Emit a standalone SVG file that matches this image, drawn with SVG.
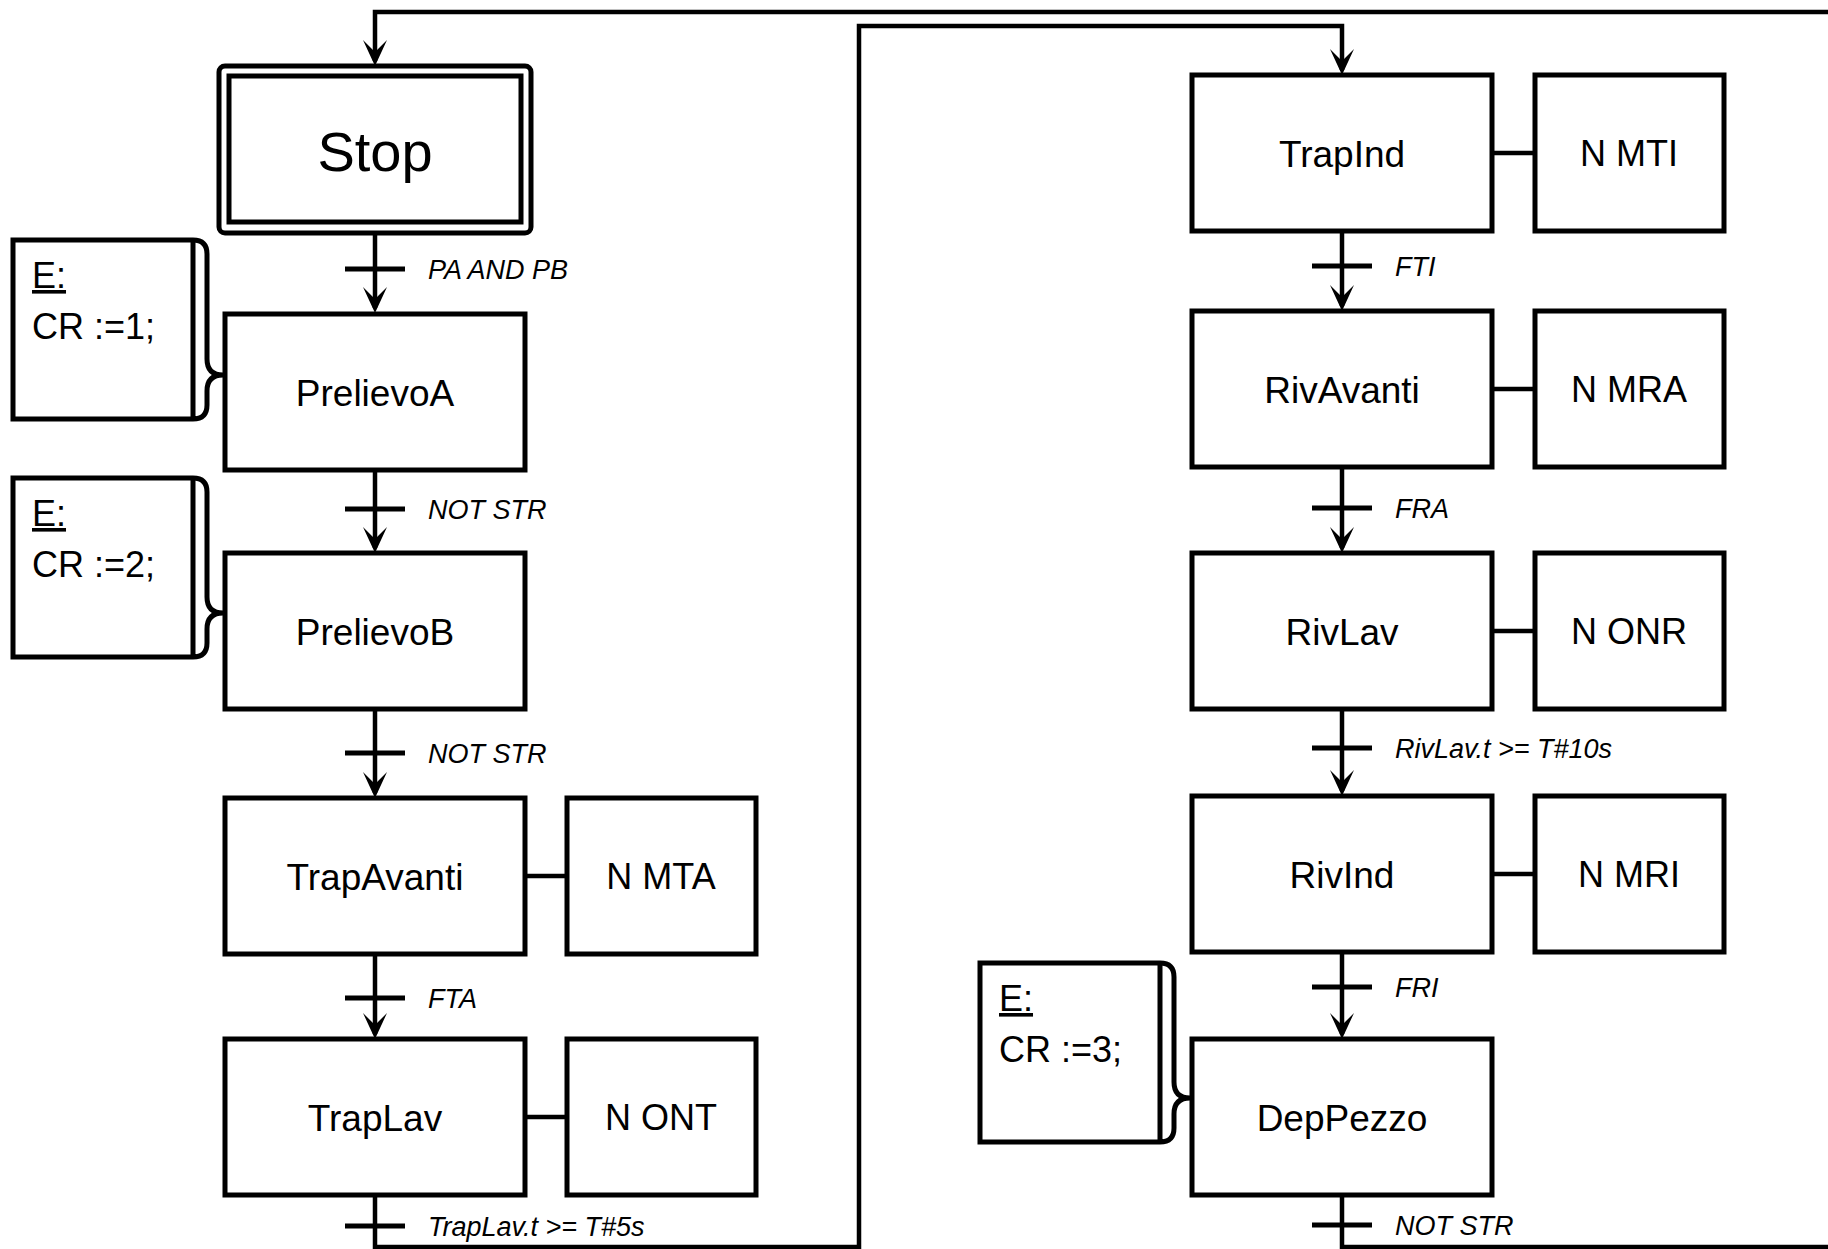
<svg xmlns="http://www.w3.org/2000/svg" width="1828" height="1249" viewBox="0 0 1828 1249">
<style>
  .box { fill: #fff; stroke: #000; stroke-width: 5; }
  .ln { fill: none; stroke: #000; stroke-width: 4.5; }
  .bar { stroke: #000; stroke-width: 5; }
  .step { font-family: "Liberation Sans", Arial, sans-serif; font-size: 37px; fill: #000; text-anchor: middle; }
  .act { font-family: "Liberation Sans", Arial, sans-serif; font-size: 36px; fill: #000; text-anchor: middle; }
  .cond { font-family: "Liberation Sans", Arial, sans-serif; font-size: 27px; font-style: italic; fill: #000; }
  .ent { font-family: "Liberation Sans", Arial, sans-serif; font-size: 36px; fill: #000; }
</style>
<defs>
  <marker id="arr" markerUnits="userSpaceOnUse" markerWidth="40" markerHeight="40" refX="0" refY="0" orient="auto" overflow="visible">
    <path d="M5,0 L-21,-12 L-9,0 L-21,12 Z" fill="#000"/>
  </marker>
  <path id="ebox" d="M193,240 H13 V419 H193 M193,240 V419 M193,240 Q207,240 207,254 V359 Q207,375 223,375 Q207,375 207,391 V405 Q207,419 193,419" fill="none" stroke="#000" stroke-width="5"/>
</defs>
<rect width="1828" height="1249" fill="#fff"/>

<g id="connectors">
  <path class="ln" d="M375,233 V308" marker-end="url(#arr)"/>
  <path class="ln" d="M375,470 V548" marker-end="url(#arr)"/>
  <path class="ln" d="M375,709 V793" marker-end="url(#arr)"/>
  <path class="ln" d="M375,954 V1034" marker-end="url(#arr)"/>
  <path class="ln" d="M375,1195 V1247 H859 V26 H1342 V70" marker-end="url(#arr)"/>
  <path class="ln" d="M1342,231 V306" marker-end="url(#arr)"/>
  <path class="ln" d="M1342,467 V548" marker-end="url(#arr)"/>
  <path class="ln" d="M1342,709 V791" marker-end="url(#arr)"/>
  <path class="ln" d="M1342,952 V1034" marker-end="url(#arr)"/>
  <path class="ln" d="M1342,1195 V1247 H1850 V12 H375 V61" marker-end="url(#arr)"/>
  <path class="ln" d="M527,876 H565"/>
  <path class="ln" d="M527,1117 H565"/>
  <path class="ln" d="M1494,153 H1533"/>
  <path class="ln" d="M1494,389 H1533"/>
  <path class="ln" d="M1494,631 H1533"/>
  <path class="ln" d="M1494,874 H1533"/>
</g>

<g id="transitions">
  <g id="t1"><line class="bar" x1="345" y1="269" x2="405" y2="269"/><text class="cond" x="428" y="279">PA AND PB</text></g>
  <g id="t2"><line class="bar" x1="345" y1="509" x2="405" y2="509"/><text class="cond" x="428" y="519">NOT STR</text></g>
  <g id="t3"><line class="bar" x1="345" y1="753" x2="405" y2="753"/><text class="cond" x="428" y="763">NOT STR</text></g>
  <g id="t4"><line class="bar" x1="345" y1="998" x2="405" y2="998"/><text class="cond" x="428" y="1008">FTA</text></g>
  <g id="t5"><line class="bar" x1="345" y1="1226" x2="405" y2="1226"/><text class="cond" x="428" y="1236">TrapLav.t &gt;= T#5s</text></g>
  <g id="t6"><line class="bar" x1="1312" y1="266" x2="1372" y2="266"/><text class="cond" x="1395" y="276">FTI</text></g>
  <g id="t7"><line class="bar" x1="1312" y1="508" x2="1372" y2="508"/><text class="cond" x="1395" y="518">FRA</text></g>
  <g id="t8"><line class="bar" x1="1312" y1="748" x2="1372" y2="748"/><text class="cond" x="1395" y="758">RivLav.t &gt;= T#10s</text></g>
  <g id="t9"><line class="bar" x1="1312" y1="987" x2="1372" y2="987"/><text class="cond" x="1395" y="997">FRI</text></g>
  <g id="t10"><line class="bar" x1="1312" y1="1225" x2="1372" y2="1225"/><text class="cond" x="1395" y="1235">NOT STR</text></g>
</g>

<g id="Stop">
  <rect class="box" x="219" y="66" width="312" height="167" rx="6"/>
  <rect class="box" x="229" y="76" width="292" height="146"/>
  <text class="step" x="375" y="171" style="font-size:56px">Stop</text>
</g>

<g id="PrelievoA">
  <rect class="box" x="225" y="314" width="300" height="156"/>
  <text class="step" x="375" y="406">PrelievoA</text>
</g>
<g id="PrelievoB">
  <rect class="box" x="225" y="553" width="300" height="156"/>
  <text class="step" x="375" y="645">PrelievoB</text>
</g>
<g id="TrapAvanti">
  <rect class="box" x="225" y="798" width="300" height="156"/>
  <text class="step" x="375" y="890">TrapAvanti</text>
</g>
<g id="TrapLav">
  <rect class="box" x="225" y="1039" width="300" height="156"/>
  <text class="step" x="375" y="1131">TrapLav</text>
</g>

<g id="act-MTA">
  <rect class="box" x="567" y="798" width="189" height="156"/>
  <text class="act" x="661" y="889">N MTA</text>
</g>
<g id="act-ONT">
  <rect class="box" x="567" y="1039" width="189" height="156"/>
  <text class="act" x="661" y="1130">N ONT</text>
</g>

<g id="TrapInd">
  <rect class="box" x="1192" y="75" width="300" height="156"/>
  <text class="step" x="1342" y="167">TrapInd</text>
</g>
<g id="RivAvanti">
  <rect class="box" x="1192" y="311" width="300" height="156"/>
  <text class="step" x="1342" y="403">RivAvanti</text>
</g>
<g id="RivLav">
  <rect class="box" x="1192" y="553" width="300" height="156"/>
  <text class="step" x="1342" y="645">RivLav</text>
</g>
<g id="RivInd">
  <rect class="box" x="1192" y="796" width="300" height="156"/>
  <text class="step" x="1342" y="888">RivInd</text>
</g>
<g id="DepPezzo">
  <rect class="box" x="1192" y="1039" width="300" height="156"/>
  <text class="step" x="1342" y="1131">DepPezzo</text>
</g>

<g id="act-MTI">
  <rect class="box" x="1535" y="75" width="189" height="156"/>
  <text class="act" x="1629" y="166">N MTI</text>
</g>
<g id="act-MRA">
  <rect class="box" x="1535" y="311" width="189" height="156"/>
  <text class="act" x="1629" y="402">N MRA</text>
</g>
<g id="act-ONR">
  <rect class="box" x="1535" y="553" width="189" height="156"/>
  <text class="act" x="1629" y="644">N ONR</text>
</g>
<g id="act-MRI">
  <rect class="box" x="1535" y="796" width="189" height="156"/>
  <text class="act" x="1629" y="887">N MRI</text>
</g>

<g id="entry-PrelievoA">
  <use href="#ebox"/>
  <text class="ent" x="32" y="288" text-decoration="underline">E:</text>
  <text class="ent" x="32" y="339">CR :=1;</text>
</g>
<g id="entry-PrelievoB" transform="translate(0,238)">
  <use href="#ebox"/>
  <text class="ent" x="32" y="288" text-decoration="underline">E:</text>
  <text class="ent" x="32" y="339">CR :=2;</text>
</g>
<g id="entry-DepPezzo" transform="translate(967,723)">
  <use href="#ebox"/>
  <text class="ent" x="32" y="288" text-decoration="underline">E:</text>
  <text class="ent" x="32" y="339">CR :=3;</text>
</g>
</svg>
